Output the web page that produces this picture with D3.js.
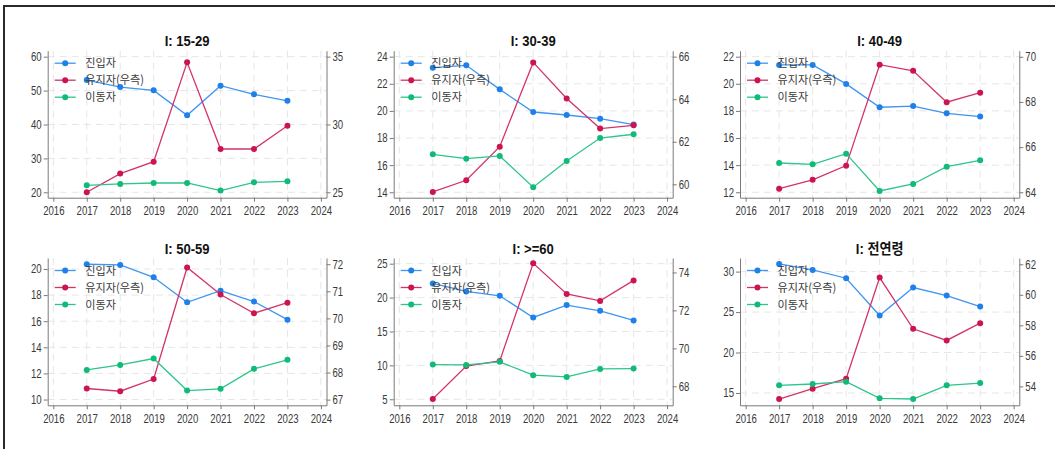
<!DOCTYPE html>
<html>
<head>
<meta charset="utf-8">
<script src="https://cdn.jsdelivr.net/npm/d3@7"></script>
<style>
  html, body { margin: 0; padding: 0; background: #fff; }
  svg { display: block; }
  text { font-family: "Liberation Sans", Arial, "Noto Sans CJK KR", sans-serif; }
</style>
</head>
<body>
<svg id="chart" width="1055" height="449"></svg>
<script>
// ---- data ----
const years = [2017, 2018, 2019, 2020, 2021, 2022, 2023];
const yearTicks = [2016, 2017, 2018, 2019, 2020, 2021, 2022, 2023, 2024];
const titles = ["I: 15-29", "I: 30-39", "I: 40-49", "I: 50-59", "I: >=60", "I: 전연령"];
const seriesNames = ["진입자", "유지자(우측)", "이동자"];

// 진입자 (left axis)
const entrants = [
  [53.1, 51.05, 50.07, 42.7, 51.45, 48.9, 47.0],
  [23.19, 23.36, 21.59, 19.92, 19.70, 19.43, 18.99],
  [21.39, 21.39, 19.99, 18.27, 18.36, 17.82, 17.58],
  [20.36, 20.31, 19.36, 17.45, 18.34, 17.50, 16.12],
  [22.09, 20.91, 20.27, 17.07, 18.89, 18.05, 16.63],
  [30.95, 30.21, 29.18, 24.57, 28.03, 27.04, 25.68]
];
// 유지자 (right axis)
const stayers = [
  [25.0, 26.38, 27.26, 34.58, 28.19, 28.19, 29.91],
  [59.64, 60.19, 61.77, 65.73, 64.03, 62.62, 62.77],
  [64.16, 64.55, 65.18, 69.65, 69.38, 67.99, 68.41],
  [67.41, 67.31, 67.76, 71.88, 70.88, 70.19, 70.58],
  [67.33, 69.07, 69.34, 74.48, 72.87, 72.50, 73.58],
  [53.17, 53.85, 54.50, 61.13, 57.77, 57.01, 58.14]
];
// 이동자 (left axis)
const movers = [
  [22.06, 22.46, 22.75, 22.75, 20.5, 22.95, 23.24],
  [16.8, 16.48, 16.68, 14.37, 16.31, 18.0, 18.28],
  [14.16, 14.06, 14.85, 12.10, 12.61, 13.89, 14.36],
  [12.27, 12.65, 13.14, 10.69, 10.82, 12.35, 13.04],
  [10.12, 10.07, 10.52, 8.55, 8.30, 9.48, 9.53],
  [15.95, 16.11, 16.40, 14.34, 14.26, 15.95, 16.23]
];

const leftTicks = [
  [20, 30, 40, 50, 60],
  [14, 16, 18, 20, 22, 24],
  [12, 14, 16, 18, 20, 22],
  [10, 12, 14, 16, 18, 20],
  [5, 10, 15, 20, 25],
  [15, 20, 25, 30]
];
const rightTicks = [
  [25, 30, 35],
  [60, 62, 64, 66],
  [64, 66, 68, 70],
  [67, 68, 69, 70, 71, 72],
  [68, 70, 72, 74],
  [54, 56, 58, 60, 62]
];

// ---- layout ----
const leftDomains = [[18.41, 61.77], [13.6, 24.44], [11.6, 22.44], [9.56, 20.84], [4.11, 25.84], [13.48, 31.68]];
const rightDomains = [[24.6, 35.44], [59.37, 66.28], [63.76, 70.27], [66.79, 72.23], [67.0, 74.76], [52.76, 62.41]];
const colLeft = [47.7, 393.7, 740];
const colRight = [326.5, 672.7, 1019.3];
const rowTop = [50.7, 258];
const rowBottom = [197.7, 405.3];
const xPad = 0.168;

const lineColors = ["#3f95f0", "#d2346a", "#2cc58c"];
const dotColors = ["#1f80ea", "#cc1550", "#10bb78"];
const SQ = 0.8; // horizontal text squeeze

const svg = d3.select("#chart");

// outer frame (top and left edges)
svg.append("line").attr("x1", 4).attr("x2", 1055).attr("y1", 6).attr("y2", 6)
  .attr("stroke", "#2a2a2a").attr("stroke-width", 2);
svg.append("line").attr("x1", 4).attr("x2", 4).attr("y1", 5).attr("y2", 449)
  .attr("stroke", "#2a2a2a").attr("stroke-width", 2);

titles.forEach((title, i) => {
  const c = i % 3, r = Math.floor(i / 3);
  const L = colLeft[c], R = colRight[c], T = rowTop[r], B = rowBottom[r];

  const x = d3.scaleLinear().domain([2016 - xPad, 2024 + xPad]).range([L, R]);
  const yL = d3.scaleLinear().domain(leftDomains[i]).range([B, T]);
  const yR = d3.scaleLinear().domain(rightDomains[i]).range([B, T]);

  const g = svg.append("g");

  // grid
  const grid = g.append("g").attr("stroke", "#e6e6e6").attr("stroke-width", 1).attr("stroke-dasharray", "7,5");
  yearTicks.forEach(t => grid.append("line").attr("x1", x(t)).attr("x2", x(t)).attr("y1", T).attr("y2", B));
  leftTicks[i].forEach(t => grid.append("line").attr("x1", L).attr("x2", R).attr("y1", yL(t)).attr("y2", yL(t)));

  // axes
  const styleAxis = (sel, kind) => {
    sel.attr("font-family", null).attr("font-size", null);
    sel.select(".domain").attr("stroke", "#7a7a7a");
    sel.selectAll(".tick line").attr("stroke", "#7a7a7a");
    sel.selectAll(".tick text").attr("fill", "#3a3a3a").style("font-size", "12px")
      .attr("transform", `scale(${SQ},1)`);
    if (kind === "left") sel.selectAll(".tick text").attr("x", -6 / SQ);
    if (kind === "right") sel.selectAll(".tick text").attr("x", 6 / SQ);
  };

  g.append("g").attr("transform", `translate(0,${B})`)
    .call(d3.axisBottom(x).tickValues(yearTicks).tickFormat(d3.format("d")).tickSize(4).tickPadding(5).tickSizeOuter(0))
    .call(s => styleAxis(s, "bottom"));
  g.append("g").attr("transform", `translate(${L},0)`)
    .call(d3.axisLeft(yL).tickValues(leftTicks[i]).tickFormat(d3.format("d")).tickSize(4).tickSizeOuter(0))
    .call(s => styleAxis(s, "left"));
  g.append("g").attr("transform", `translate(${R},0)`)
    .call(d3.axisRight(yR).tickValues(rightTicks[i]).tickFormat(d3.format("d")).tickSize(4).tickSizeOuter(0))
    .call(s => styleAxis(s, "right"));

  // title
  g.append("text")
    .attr("transform", `translate(${(L + R) / 2},${T - 4.5}) scale(0.9,1)`)
    .attr("text-anchor", "middle")
    .style("font-size", "14.5px").style("font-weight", "bold").attr("fill", "#111")
    .text(title);

  // series
  const series = [
    { values: entrants[i], y: yL },
    { values: stayers[i], y: yR },
    { values: movers[i], y: yL }
  ];
  series.forEach((s, k) => {
    const pts = years.map((yr, j) => [x(yr), s.y(s.values[j])]);
    g.append("path").attr("d", d3.line()(pts)).attr("fill", "none")
      .attr("stroke", lineColors[k]).attr("stroke-width", 1.3);
    g.selectAll(null).data(pts).enter().append("circle")
      .attr("cx", d => d[0]).attr("cy", d => d[1]).attr("r", 3)
      .attr("fill", dotColors[k]);
  });

  // legend
  seriesNames.forEach((name, k) => {
    const ly = T + 12.5 + k * 17;
    g.append("line").attr("x1", L + 7).attr("x2", L + 28).attr("y1", ly).attr("y2", ly)
      .attr("stroke", lineColors[k]).attr("stroke-width", 1.3);
    g.append("circle").attr("cx", L + 17.5).attr("cy", ly).attr("r", 3).attr("fill", dotColors[k]);
    g.append("text")
      .attr("transform", `translate(${L + 37.5},${ly + 4.2}) scale(0.97,1)`)
      .style("font-family", "'Noto Sans CJK KR', sans-serif")
      .style("font-size", "11.5px").attr("fill", "#3a3a3a")
      .text(name);
  });
});
</script>
</body>
</html>
